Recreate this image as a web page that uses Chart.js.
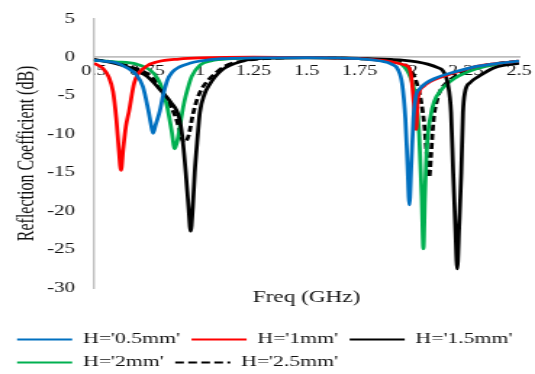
<!DOCTYPE html>
<html>
<head>
<meta charset="utf-8">
<script src="https://cdn.jsdelivr.net/npm/chart.js@4/dist/chart.umd.min.js"></script>
<style>
  html, body { margin: 0; padding: 0; background: #fff; overflow: hidden; }
  /* the reference picture is stretched sideways, so the chart is drawn narrower and widened */
  #wrap { width: 369px; height: 377px; transform: translateY(-3px) scaleX(1.4499); transform-origin: 0 0; }
</style>
</head>
<body>
<div id="wrap"><canvas id="chart" width="369" height="377"></canvas></div>
<script>
// series names (legend)
const seriesNames = ["H='0.5mm'", "H='1mm'", "H='1.5mm'", "H='2mm'", "H='2.5mm'"];

// H = 0.5 mm
const freqH05 = [0.5, 0.6, 0.65, 0.7, 0.73, 0.755, 0.77, 0.778, 0.79, 0.81, 0.825, 0.845, 0.87, 0.9, 0.95, 1.0, 1.1, 1.25, 1.5, 1.75, 1.85, 1.9, 1.93, 1.95, 1.965, 1.975, 1.984, 1.993, 2.003, 2.015, 2.03, 2.06, 2.1, 2.2, 2.3, 2.4, 2.5];
const s11H05  = [-0.4, -0.7, -1.3, -2.3, -3.8, -6.8, -9.0, -9.9, -8.8, -7.0, -5.0, -3.0, -1.9, -1.3, -0.8, -0.5, -0.2, -0.1, -0.05, -0.2, -0.5, -0.9, -1.6, -3.5, -8, -14, -19.2, -14, -8, -5.0, -4.2, -3.4, -2.8, -1.9, -1.2, -0.8, -0.5];

// H = 1 mm
const freqH1 = [0.5, 0.54, 0.57, 0.59, 0.605, 0.617, 0.627, 0.637, 0.65, 0.665, 0.69, 0.74, 0.8, 0.9, 1.0, 1.25, 1.5, 1.75, 1.9, 1.96, 1.985, 1.995, 2.005, 2.016, 2.022, 2.03, 2.05, 2.08, 2.13, 2.2, 2.3, 2.4, 2.5];
const s11H1  = [-0.8, -1.4, -2.6, -4.5, -8.0, -12, -14.7, -12, -9.0, -7.0, -3.3, -1.3, -0.6, -0.25, -0.1, 0, -0.05, -0.2, -0.6, -1.0, -1.5, -3.0, -6.0, -9.4, -6.0, -4.6, -3.8, -3.2, -2.6, -2.0, -1.2, -0.8, -0.5];

// H = 1.5 mm
const freqH15 = [0.5, 0.6, 0.7, 0.75, 0.82, 0.86, 0.9, 0.915, 0.932, 0.945, 0.955, 0.965, 0.974, 0.988, 0.998, 1.02, 1.04, 1.1, 1.2, 1.3, 1.5, 1.75, 1.9, 1.96, 2.02, 2.07, 2.12, 2.14, 2.165, 2.18, 2.19, 2.2, 2.209, 2.218, 2.228, 2.236, 2.245, 2.27, 2.31, 2.38, 2.44, 2.5];
const s11H15  = [-0.3, -0.8, -1.7, -2.5, -4.5, -5.8, -7.8, -10.2, -15, -19.5, -22.6, -19.5, -15, -10.2, -7.2, -4.8, -3.7, -1.7, -0.5, -0.15, -0.1, -0.15, -0.3, -0.4, -0.6, -0.9, -1.4, -1.7, -3.5, -7.2, -15, -22, -27.5, -22, -15, -7.2, -4.6, -3.3, -2.5, -1.4, -1.0, -0.8];

// H = 2 mm
const freqH2 = [0.5, 0.6, 0.7, 0.77, 0.8, 0.82, 0.845, 0.865, 0.88, 0.895, 0.91, 0.925, 0.94, 0.96, 1.0, 1.05, 1.15, 1.25, 1.5, 1.75, 1.9, 1.95, 1.99, 2.015, 2.03, 2.042, 2.05, 2.057, 2.068, 2.085, 2.1, 2.135, 2.2, 2.3, 2.4, 2.5];
const s11H2  = [-0.4, -0.6, -0.9, -1.8, -2.8, -4.0, -6.5, -9.5, -11.9, -10.5, -8.0, -5.8, -4.2, -2.5, -1.0, -0.5, -0.2, -0.1, -0.05, -0.2, -0.6, -1.0, -2.7, -5.5, -10, -18, -24.9, -18, -11, -7.5, -5.8, -4.2, -2.7, -1.5, -0.9, -0.6];

// H = 2.5 mm
const freqH25 = [0.5, 0.6, 0.7, 0.765, 0.8, 0.85, 0.88, 0.9, 0.912, 0.925, 0.945, 0.965, 0.985, 1.005, 1.04, 1.07, 1.12, 1.2, 1.3, 1.5, 1.75, 1.9, 1.96, 2.0, 2.02, 2.04, 2.055, 2.065, 2.077, 2.085, 2.092, 2.1, 2.115, 2.13, 2.148, 2.21, 2.3, 2.4, 2.5];
const s11H25  = [-0.3, -0.7, -1.5, -2.4, -3.5, -5.9, -7.5, -9.2, -10.5, -11.1, -10.2, -7.5, -5.5, -4.2, -2.9, -2.1, -1.1, -0.5, -0.2, -0.05, -0.2, -0.5, -0.9, -2.1, -3.5, -5.9, -9, -12.4, -15.6, -13, -10, -7.5, -5.5, -4.3, -3.6, -2.3, -1.3, -0.8, -0.5];

const seriesFreq = [freqH05, freqH1, freqH15, freqH2, freqH25];
const seriesS11 = [s11H05, s11H1, s11H15, s11H2, s11H25];
const seriesColors = ['#0070C0', '#FF0000', '#000000', '#00B050', '#000000'];
const seriesDash = [[], [], [], [], [6, 3]];

const fontFamily = "'Liberation Serif', 'Times New Roman', serif";
const axisGrey = '#BFBFBF';

function toPoints(xs, ys) {
  return xs.map((x, i) => ({x: x, y: ys[i]}));
}

const datasets = seriesNames.map((name, i) => ({
  label: name,
  data: toPoints(seriesFreq[i], seriesS11[i]),
  borderColor: seriesColors[i],
  backgroundColor: seriesColors[i],
  borderWidth: 2.75,
  borderDash: seriesDash[i],
  pointRadius: 0,
  cubicInterpolationMode: 'monotone',
  fill: false
}));

// legend entries drawn as short lines, dashed for the dashed series
function legendLabels(chart) {
  const items = Chart.defaults.plugins.legend.labels.generateLabels(chart);
  items.forEach(item => {
    item.lineDash = seriesDash[item.datasetIndex];
    item.lineWidth = 2.2;
  });
  return items;
}

new Chart(document.getElementById('chart'), {
  type: 'line',
  data: {datasets: datasets},
  options: {
    responsive: false,
    animation: false,
    layout: {padding: {left: 3.8, right: 0, top: 14, bottom: -6}},
    plugins: {
      tooltip: {enabled: false},
      legend: {
        position: 'bottom',
        align: 'start',
        labels: {
          usePointStyle: true,
          pointStyle: 'line',
          pointStyleWidth: 38,
          padding: 8,
          color: '#111',
          font: {family: fontFamily, size: 15},
          generateLabels: legendLabels
        }
      }
    },
    scales: {
      x: {
        type: 'linear',
        position: 'bottom',
        min: 0.5,
        max: 2.5,
        grid: {display: false, drawTicks: false},
        border: {display: false},
        ticks: {display: false},
        title: {
          display: true,
          text: 'Freq (GHz)',
          color: '#111',
          font: {family: fontFamily, size: 16},
          padding: {top: 0.4, bottom: 16.3}
        }
      },
      // tick labels sit on the 0 dB line, as in the original
      x2: {
        type: 'linear',
        axis: 'x',
        position: {y: 0},
        min: 0.5,
        max: 2.5,
        grid: {display: false, drawTicks: false},
        border: {display: true, color: axisGrey, width: 1.75},
        ticks: {
          stepSize: 0.25,
          padding: 6,
          maxRotation: 0,
          autoSkip: false,
          color: '#111',
          font: {family: fontFamily, size: 14},
          callback: (v) => String(Math.round(v * 100) / 100)
        },
        afterFit: (scale) => { scale.paddingLeft = 0; scale.paddingRight = 0; }
      },
      y: {
        type: 'linear',
        position: 'left',
        min: -30,
        max: 5,
        grid: {display: false, drawTicks: false},
        border: {display: true, color: axisGrey, width: 1.4},
        ticks: {
          stepSize: 5,
          padding: 13,
          color: '#111',
          font: {family: fontFamily, size: 14.5}
        },
        title: {
          display: true,
          text: 'Reflection Coefficient (dB)',
          color: '#111',
          font: {family: fontFamily, size: 16},
          padding: {top: 5.6, bottom: 0}
        },
        afterFit: (scale) => { scale.width = 61; }
      },
      yRight: {
        type: 'linear',
        position: 'right',
        grid: {display: false, drawTicks: false},
        border: {display: false},
        ticks: {display: false},
        afterFit: (scale) => { scale.width = 11; }
      }
    }
  }
});
</script>
</body>
</html>
